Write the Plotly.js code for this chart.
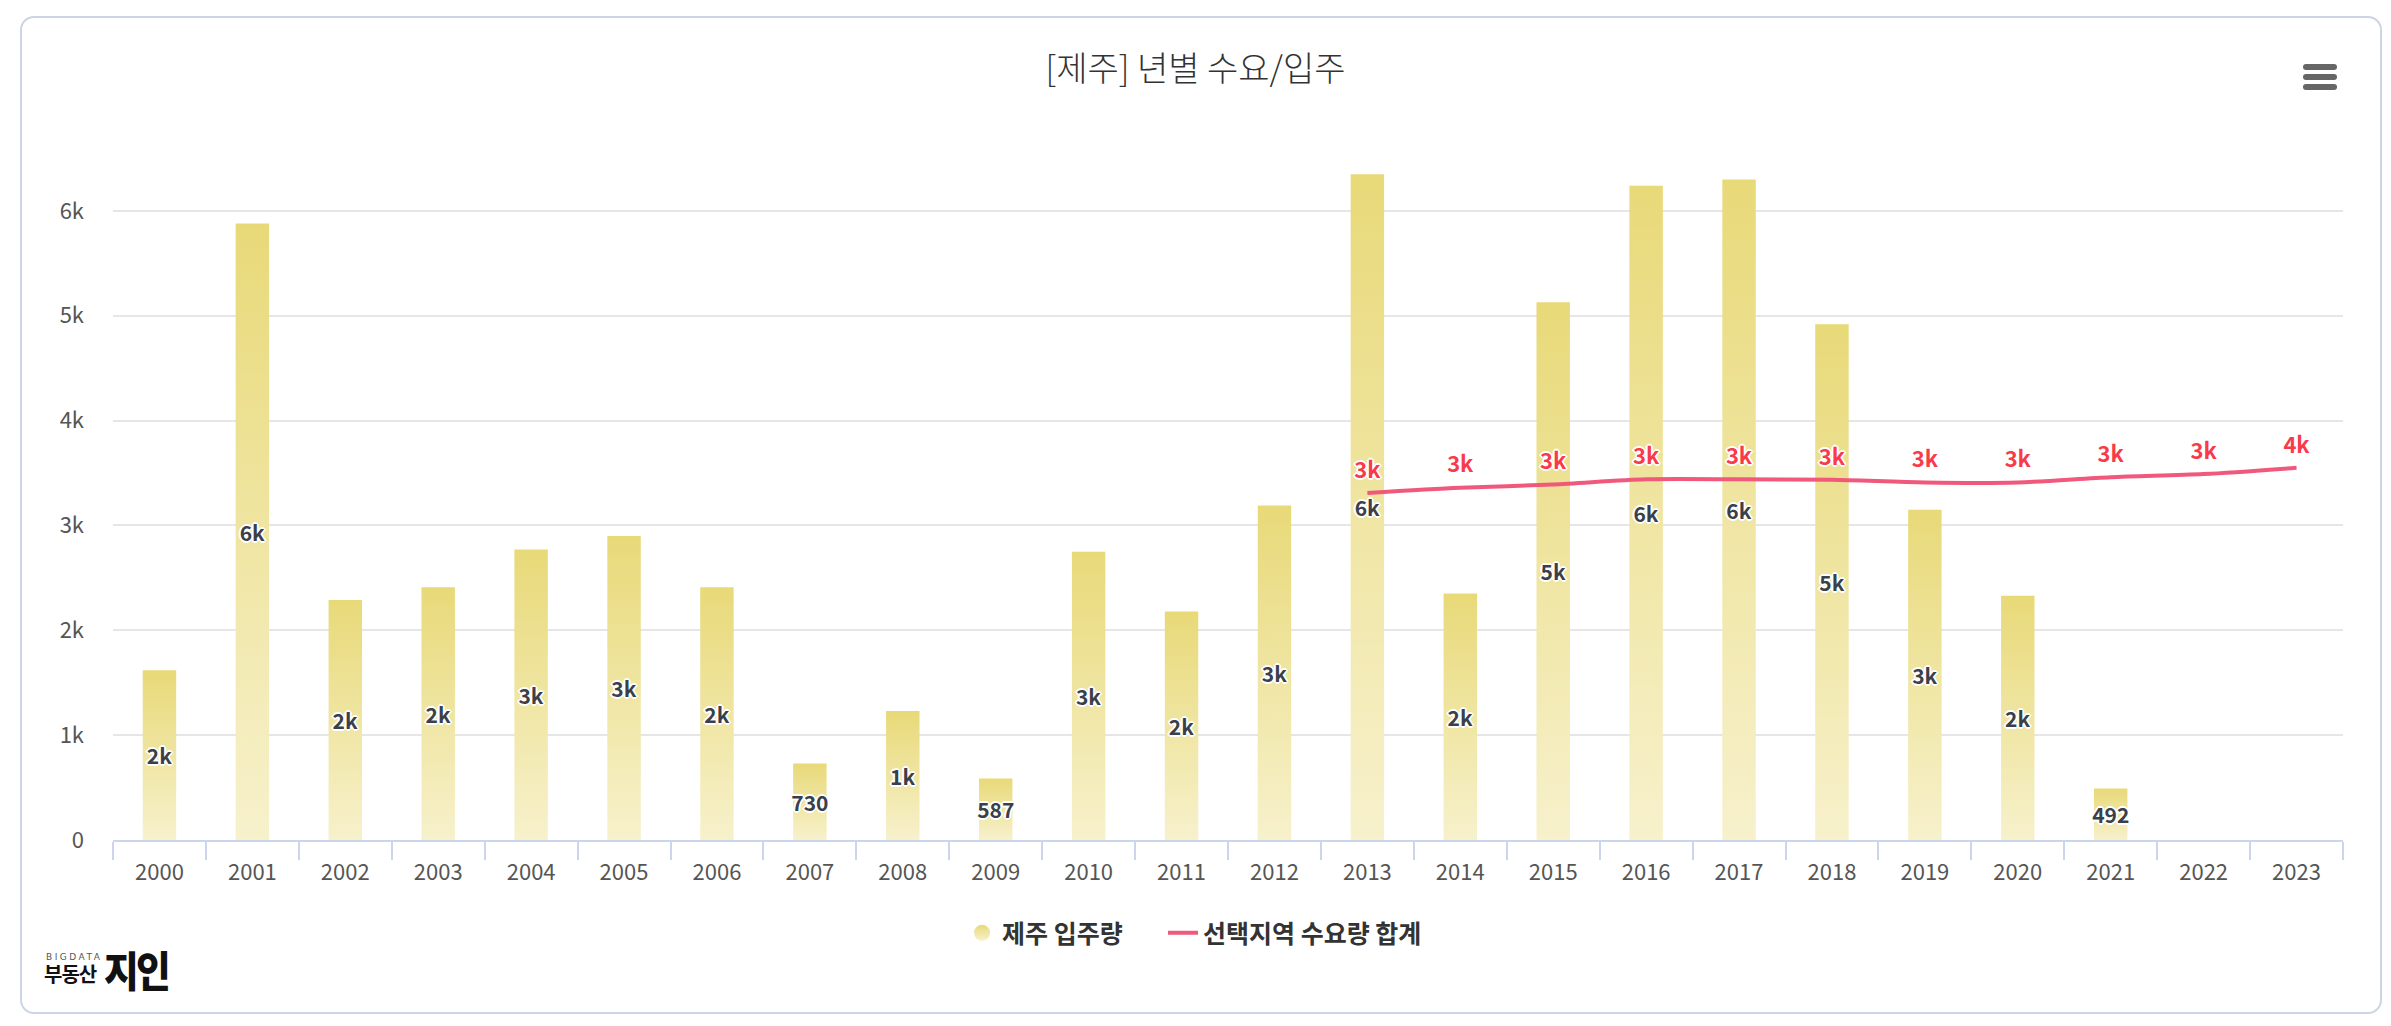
<!DOCTYPE html>
<html>
<head>
<meta charset="utf-8">
<script src="https://cdn.plot.ly/plotly-3.0.1.min.js"></script>
<style>
  html, body { margin: 0; padding: 0; background: #fff; }
  #wrap { position: relative; width: 2391px; height: 1026px; overflow: hidden; }
  #chart { position: absolute; left: 0; top: 0; width: 2391px; height: 1026px; }
  #frame { position: absolute; left: 20px; top: 16px; width: 2358px; height: 994px;
           border: 2px solid #ccd5e4; border-radius: 14px; pointer-events: none; }
  #menu { position: absolute; left: 2303px; top: 64px; width: 34px; }
  #menu div { height: 6px; background: #666; border-radius: 3px; margin-bottom: 4px; }
  #logo { position: absolute; left: 44px; top: 952px; width: 200px; height: 50px; font-family: "Noto Sans CJK KR", sans-serif; white-space: nowrap; }
  #logo .big { position: absolute; left: 60px; top: -7px; font-size: 42px; font-weight: 900; color: #111; line-height: 48px; letter-spacing: -3px; white-space: nowrap; transform: scaleX(0.9); transform-origin: left center; }
  #logo .small { position: absolute; left: 2px; top: 0px; font-size: 9px; letter-spacing: 2.5px; color: #555; line-height: 10px; font-family: "DejaVu Sans", sans-serif; white-space: nowrap; }
  #logo .kr { position: absolute; left: 0px; top: 10px; font-size: 20px; font-weight: 700; color: #111; line-height: 24px; letter-spacing: -1px; white-space: nowrap; }
</style>
</head>
<body>
<div id="wrap">
  <div id="chart"></div>
  <div id="frame"></div>
  <div id="menu"><div></div><div></div><div></div></div>
  <div id="logo"><span class="small">BIGDATA</span><span class="kr">부동산</span><span class="big">지인</span></div>
</div>
<script>
const years = ['2000','2001','2002','2003','2004','2005','2006','2007','2008','2009','2010','2011',
               '2012','2013','2014','2015','2016','2017','2018','2019','2020','2021','2022','2023'];
const supplyValues = [1620, 5880, 2290, 2410, 2770, 2900, 2410, 730, 1230, 587, 2750, 2180,
                      3190, 6350, 2350, 5130, 6240, 6300, 4920, 3150, 2330, 492, null, null];
const demandValues = [null, null, null, null, null, null, null, null, null, null, null, null,
                      null, 3310, 3360, 3390, 3440, 3440, 3435, 3410, 3410, 3460, 3490, 3550];
const yTickVals = [0, 1000, 2000, 3000, 4000, 5000, 6000];
const yTickText = ['0', '1k', '2k', '3k', '4k', '5k', '6k'];
const titleText = '[제주] 년별 수요/입주';
const supplyName = '제주 입주량';
const demandName = '선택지역 수요량 합계';

function fmt(v) {
  if (v === null || v === undefined) return '';
  return v >= 1000 ? Math.round(v / 1000) + 'k' : String(v);
}

const outline = '-1px -1px 0 #fff, 1px -1px 0 #fff, -1px 1px 0 #fff, 1px 1px 0 #fff, 0 2px 0 #fff, 0 -2px 0 #fff, 2px 0 0 #fff, -2px 0 0 #fff';
const KR = '"Noto Sans CJK KR", "Noto Sans", sans-serif';
const NUM = '"Noto Sans CJK KR", "Noto Sans", sans-serif';

const traces = [
  {
    type: 'bar', x: years, y: supplyValues, name: supplyName, showlegend: false,
    width: 0.36,
    marker: { color: '#ecdf8c', line: { width: 0 } },
    text: supplyValues.map(fmt), textposition: 'inside', insidetextanchor: 'middle',
    textangle: 0, constraintext: 'none',
    textfont: { family: NUM, size: 21, color: '#3a3f4a', weight: 'bold', shadow: outline },
    hoverinfo: 'x+y'
  },
  {
    type: 'scatter', mode: 'markers', x: [null], y: [null], name: supplyName, legend: 'legend',
    marker: { symbol: 'circle', size: 24, color: '#e8d978', gradient: { type: 'vertical', color: '#f7f1cc' } },
    hoverinfo: 'skip'
  },
  {
    type: 'scatter', mode: 'lines+markers+text', x: years, y: demandValues, name: demandName, legend: 'legend2',
    line: { color: '#f0587c', width: 4, shape: 'spline', smoothing: 0.8 },
    marker: { size: 14, color: 'rgba(0,0,0,0)', line: { width: 0 } },
    text: demandValues.map(fmt), textposition: 'top center',
    textfont: { family: NUM, size: 22, color: '#f93a4b', weight: 'bold', shadow: outline },
    connectgaps: false, cliponaxis: false
  }
];

const legendBase = {
  orientation: 'h', xref: 'container', xanchor: 'left',
  yref: 'container', y: 1 - 933 / 1026, yanchor: 'middle',
  font: { family: KR, size: 25, color: '#333', weight: 'bold' },
  itemsizing: 'trace', bgcolor: 'rgba(0,0,0,0)'
};

const layout = {
  width: 2391, height: 1026,
  margin: { l: 113, r: 48, t: 148, b: 186 },
  paper_bgcolor: 'rgba(0,0,0,0)', plot_bgcolor: 'rgba(0,0,0,0)',
  title: { text: titleText, x: 0.5, xanchor: 'center', y: 1 - 69 / 1026, yanchor: 'middle',
           font: { family: KR, size: 34, color: '#333', weight: 300 } },
  xaxis: {
    type: 'category', categoryorder: 'array', categoryarray: years,
    showgrid: false, showline: true, linecolor: '#ccd6eb', linewidth: 2,
    ticks: 'outside', tickson: 'boundaries', ticklen: 18, tickcolor: '#ccd6eb', tickwidth: 1.5,
    ticklabelstandoff: 12,
    tickfont: { family: NUM, size: 22, color: '#555' },
    range: [-0.5, 23.5], fixedrange: true
  },
  yaxis: {
    range: [0, 6600], tickvals: yTickVals, ticktext: yTickText,
    showgrid: true, gridcolor: '#e6e6e6', gridwidth: 1.5, zeroline: false, showline: false,
    ticks: '', ticklabelstandoff: 28,
    tickfont: { family: NUM, size: 22, color: '#555' }, fixedrange: true
  },
  legend: Object.assign({}, legendBase, { x: 962 / 2391 }),
  legend2: Object.assign({}, legendBase, { x: 1163 / 2391 }),
  showlegend: true
};

function applyGradient(gd) {
  const svg = gd.querySelector('svg.main-svg');
  if (!svg) return;
  let defs = svg.querySelector('defs');
  if (!defs) { defs = document.createElementNS('http://www.w3.org/2000/svg', 'defs'); svg.insertBefore(defs, svg.firstChild); }
  if (!svg.querySelector('#barGrad')) {
    const g = document.createElementNS('http://www.w3.org/2000/svg', 'linearGradient');
    g.setAttribute('id', 'barGrad');
    g.setAttribute('x1', '0'); g.setAttribute('y1', '0'); g.setAttribute('x2', '0'); g.setAttribute('y2', '1');
    const s1 = document.createElementNS('http://www.w3.org/2000/svg', 'stop');
    s1.setAttribute('offset', '0'); s1.setAttribute('stop-color', '#e8d978');
    const s2 = document.createElementNS('http://www.w3.org/2000/svg', 'stop');
    s2.setAttribute('offset', '1'); s2.setAttribute('stop-color', '#f7f1cc');
    g.appendChild(s1); g.appendChild(s2); defs.appendChild(g);
  }
  gd.querySelectorAll('.barlayer .point path').forEach(p => p.style.setProperty('fill', 'url(#barGrad)'));
}

const gd = document.getElementById('chart');
Plotly.newPlot(gd, traces, layout, { displayModeBar: false, responsive: false }).then(() => {
  applyGradient(gd);
  gd.on('plotly_afterplot', () => applyGradient(gd));
});
</script>
</body>
</html>
